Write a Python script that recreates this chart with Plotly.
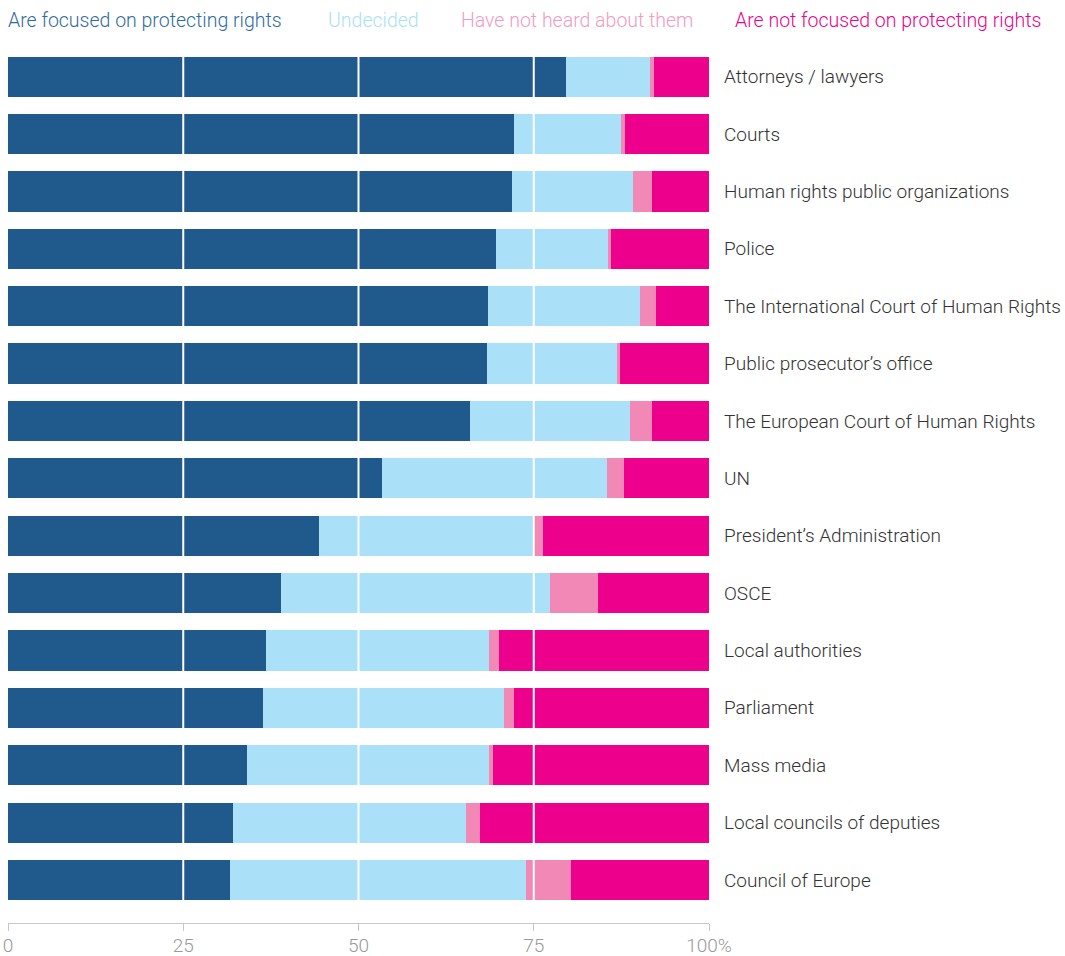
import plotly.graph_objects as go

categories = [
    "Attorneys / lawyers",
    "Courts",
    "Human rights public organizations",
    "Police",
    "The International Court of Human Rights",
    "Public prosecutor’s office",
    "The European Court of Human Rights",
    "UN",
    "President’s Administration",
    "OSCE",
    "Local authorities",
    "Parliament",
    "Mass media",
    "Local councils of deputies",
    "Council of Europe",
]

focused = [79.6, 72.2, 71.9, 69.6, 68.5, 68.3, 65.9, 53.4, 44.3, 38.9, 36.8, 36.4, 34.1, 32.1, 31.7]
undecided = [12.0, 15.3, 17.3, 16.0, 21.6, 18.6, 22.9, 32.0, 30.8, 38.4, 31.8, 34.3, 34.5, 33.3, 42.2]
not_heard = [0.6, 0.5, 2.6, 0.4, 2.3, 0.4, 3.0, 2.5, 1.2, 6.8, 1.4, 1.5, 0.6, 1.9, 6.4]
not_focused = [7.8, 12.0, 8.2, 14.0, 7.6, 12.7, 8.2, 12.1, 23.7, 15.9, 30.0, 27.8, 30.8, 32.7, 19.7]

series_names = [
    "Are focused on protecting rights",
    "Undecided",
    "Have not heard about them",
    "Are not focused on protecting rights",
]
series_values = [focused, undecided, not_heard, not_focused]
bar_colors = ["#205A8C", "#ABE0F9", "#F288B6", "#EC008C"]
legend_text_colors = ["#2F6BA0", "#ABE0F9", "#F39BC1", "#EC008C"]

tick_vals = [0, 25, 50, 75, 100]
tick_text = ["0", "25", "50", "75", "100%"]
grid_vals = [25, 50, 75]

FONT = "Roboto"

fig = go.Figure()
for name, vals, col in zip(series_names, series_values, bar_colors):
    fig.add_trace(go.Bar(
        y=categories, x=vals, name=name, orientation="h",
        marker=dict(color=col, line=dict(width=0)),
        hoverinfo="x+y+name",
    ))

for g in grid_vals:
    fig.add_shape(type="line", xref="x", yref="paper", x0=g, x1=g, y0=0.015, y1=1,
                  line=dict(color="white", width=2), layer="above")

# legend as coloured text across the top
legend_x = [6, 326, 459, 733]
for name, col, xpx in zip(series_names, legend_text_colors, legend_x):
    fig.add_annotation(text=name, xref="paper", yref="paper",
                       x=(xpx - 8) / 701, y=1, yshift=28, xanchor="left", yanchor="middle",
                       showarrow=False, font=dict(family=FONT, size=19.5, color=col, weight=300))

fig.update_layout(
    width=1065, height=956,
    barmode="stack", bargap=0.30,
    showlegend=False,
    plot_bgcolor="white", paper_bgcolor="white",
    margin=dict(l=8, r=356, t=48, b=33, autoexpand=False),
    font=dict(family=FONT),
    xaxis=dict(
        range=[0, 100], tickvals=tick_vals, ticktext=tick_text,
        showgrid=False, zeroline=False, automargin=False,
        showline=True, linecolor="#C8C8C8", linewidth=1,
        ticks="outside", ticklen=7, tickcolor="#C8C8C8",
        ticklabeloverflow="allow", ticklabelstandoff=-2,
        tickfont=dict(family=FONT, size=19, color="#999999", weight=300),
    ),
    yaxis=dict(
        categoryorder="array", categoryarray=categories,
        range=[14.75, -0.5], automargin=False,
        side="right", showgrid=False, zeroline=False, showline=False,
        ticks="", ticklabelstandoff=14,
        tickfont=dict(family=FONT, size=19, color="#333333", weight=300),
    ),
)

fig.write_html(
    "out.html",
    config={"displayModeBar": False},
    post_script="document.body.style.margin='0';document.body.style.overflow='hidden';",
)
